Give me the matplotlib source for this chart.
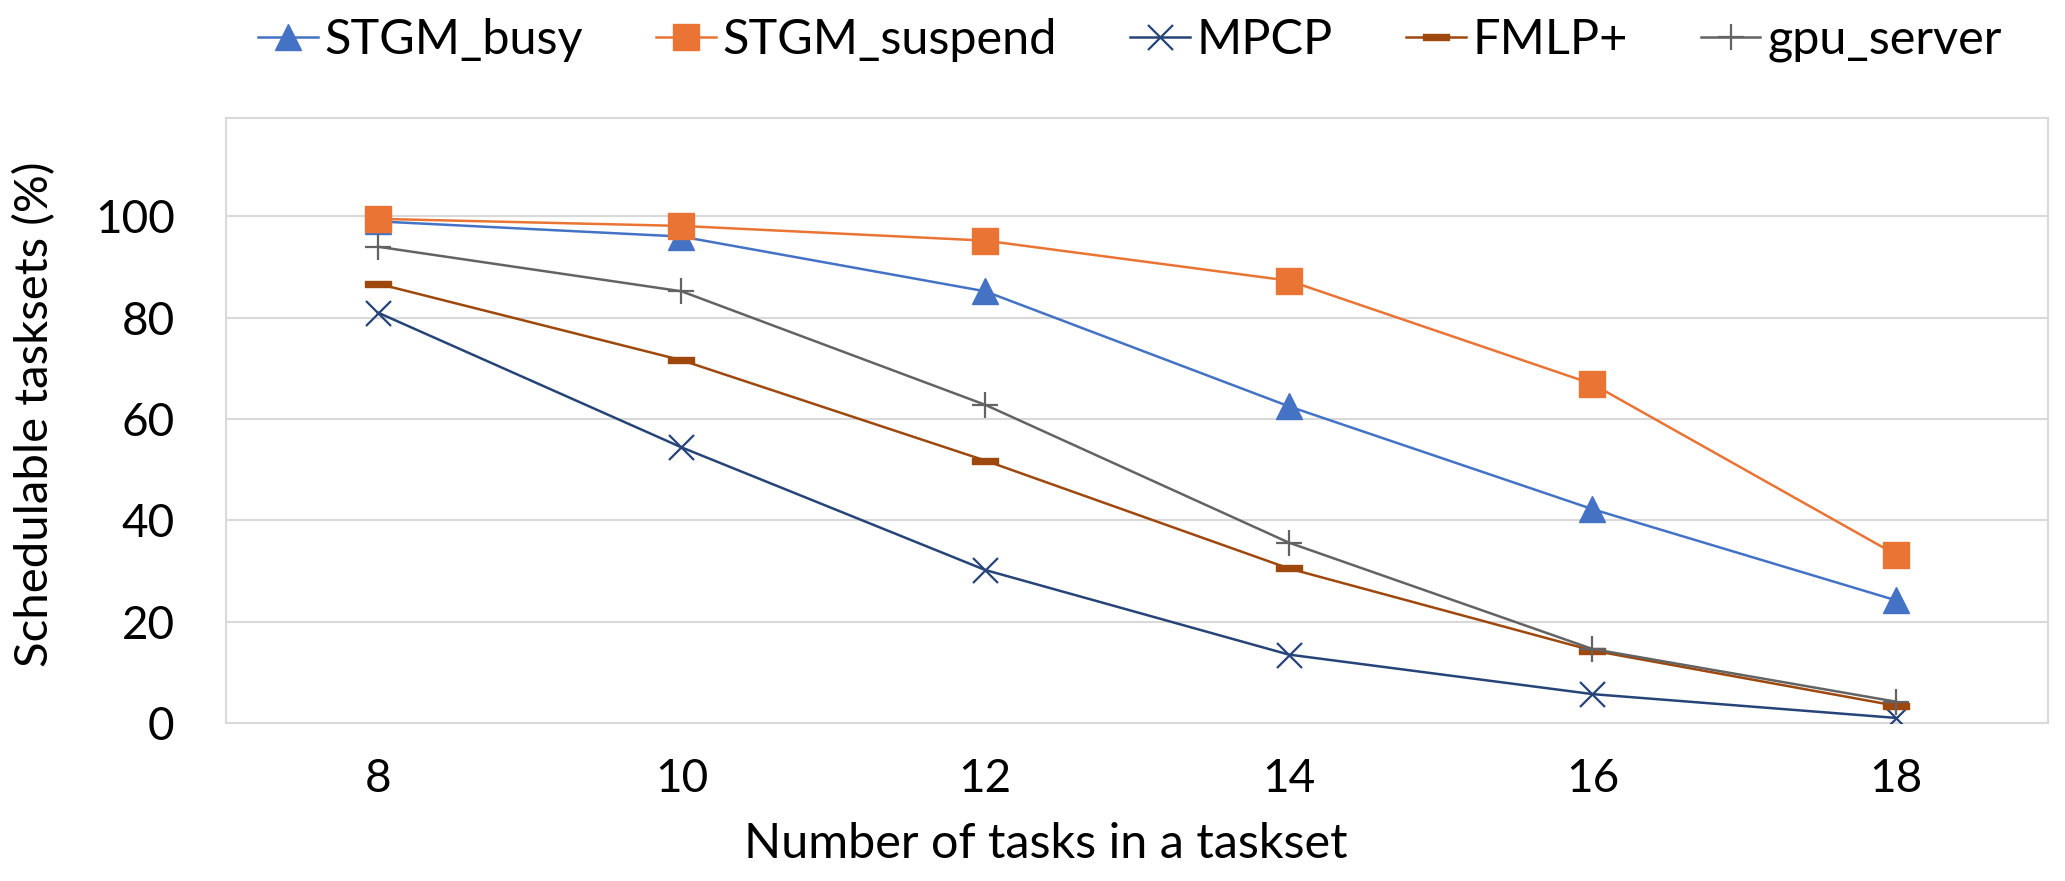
import matplotlib.pyplot as plt
from matplotlib.path import Path

# data
tasks = [8, 10, 12, 14, 16, 18]
stgm_busy = [99.0, 96.0, 85.2, 62.5, 42.2, 24.2]
stgm_suspend = [99.5, 98.1, 95.2, 87.3, 66.9, 33.2]
mpcp = [81.0, 54.4, 30.2, 13.5, 5.7, 1.0]
fmlp = [86.7, 71.6, 51.8, 30.5, 14.3, 3.4]
gpu_server = [94.0, 85.2, 62.8, 35.6, 14.6, 4.2]
y_ticks = [0, 20, 40, 60, 80, 100]

plt.rcParams['font.family'] = ['Lato', 'DejaVu Sans']

# flat bar marker like Excel's "dash"
dash = Path([(-1, -0.24), (1, -0.24), (1, 0.24), (-1, 0.24), (-1, -0.24)],
            [Path.MOVETO, Path.LINETO, Path.LINETO, Path.LINETO, Path.CLOSEPOLY])

fig = plt.figure(figsize=(20.65, 8.81), dpi=100)
ax = fig.add_axes([226 / 2065, 158 / 881, 1822 / 2065, 605 / 881])

lw = 1.8
ax.plot(tasks, stgm_busy, color='#4472C4', lw=lw, marker='^', ms=18.5,
        mec='#4472C4', label='STGM_busy', zorder=3)
ax.plot(tasks, stgm_suspend, color='#E97434', lw=lw, marker='s', ms=19,
        mec='#E97434', label='STGM_suspend', zorder=4)
ax.plot(tasks, mpcp, color='#264478', lw=lw, marker='x', ms=18, mew=1.6,
        label='MPCP', zorder=3)
ax.plot(tasks, fmlp, color='#9E480E', lw=lw, marker=dash, ms=19,
        mec='#9E480E', mfc='#9E480E', label='FMLP+', zorder=3)
ax.plot(tasks, gpu_server, color='#636363', lw=lw, marker='+', ms=19, mew=1.6,
        label='gpu_server', zorder=3)

ax.set_xlim(7, 19)
ax.set_ylim(0, 119.4)
ax.set_xticks(tasks)
ax.set_yticks(y_ticks)
ax.tick_params(axis='both', length=0, labelsize=33)
ax.tick_params(axis='x', pad=25)
ax.tick_params(axis='y', pad=37)
ax.grid(axis='y', color='#D9D9D9', lw=1.5)
ax.set_axisbelow(True)
for sp in ax.spines.values():
    sp.set_color('#D9D9D9')
    sp.set_linewidth(1.5)

ax.set_xlabel('Number of tasks in a taskset', fontsize=35)
ax.xaxis.set_label_coords(0.45, -0.163)
ax.set_ylabel('Schedulable tasksets (%)', fontsize=34)
ax.yaxis.set_label_coords(-0.093, 0.51)

fig.legend(loc='center left', bbox_to_anchor=(258 / 2065, 1 - 40 / 881), ncol=5,
           frameon=False, fontsize=35, handlelength=1.23, handletextpad=0.14,
           columnspacing=1.5, borderpad=0, borderaxespad=0)

fig.savefig('out.png', dpi=100)
